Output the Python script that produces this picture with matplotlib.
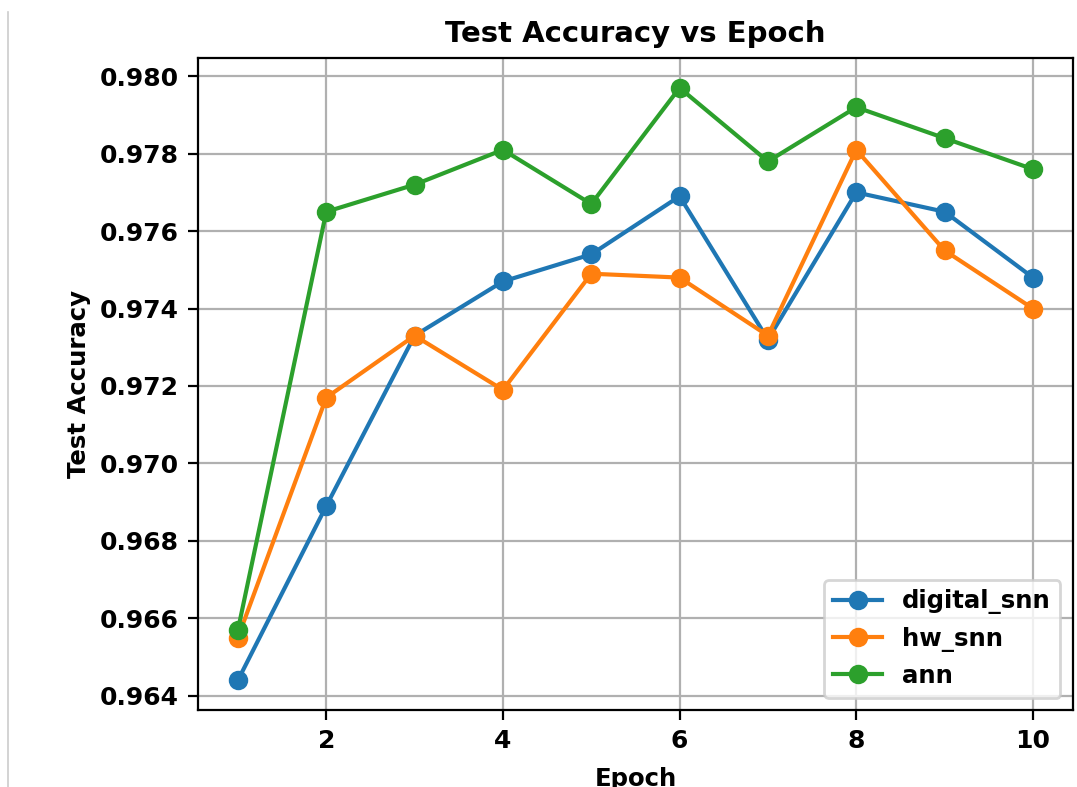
import matplotlib
matplotlib.use('Agg')
import matplotlib.pyplot as plt
from matplotlib.lines import Line2D

# test accuracy per epoch
epochs = [1, 2, 3, 4, 5, 6, 7, 8, 9, 10]
digital_snn = [0.9644, 0.9689, 0.9733, 0.9747, 0.9754, 0.9769, 0.9732, 0.9770, 0.9765, 0.9748]
hw_snn = [0.9655, 0.9717, 0.9733, 0.9719, 0.9749, 0.9748, 0.9733, 0.9781, 0.9755, 0.9740]
ann = [0.9657, 0.9765, 0.9772, 0.9781, 0.9767, 0.9797, 0.9778, 0.9792, 0.9784, 0.9776]

plt.rcParams['font.weight'] = 'bold'
plt.rcParams['axes.labelweight'] = 'bold'
plt.rcParams['axes.titleweight'] = 'bold'

W = 1077 / 200
H = 787 / 200
fig, ax = plt.subplots(figsize=(W, H), dpi=200)
fig.subplots_adjust(left=0.184, right=0.996, top=0.926, bottom=0.098)

ax.plot(epochs, digital_snn, marker='o', label='digital_snn')
ax.plot(epochs, hw_snn, marker='o', label='hw_snn')
ax.plot(epochs, ann, marker='o', label='ann')

ax.set_title('Test Accuracy vs Epoch', fontsize=10.5)
ax.set_xlabel('Epoch', fontsize=8.8, labelpad=5)
ax.set_ylabel('Test Accuracy', fontsize=8.8, labelpad=3)
ax.set_xticks([2, 4, 6, 8, 10])
ax.set_yticks([0.964, 0.966, 0.968, 0.970, 0.972, 0.974, 0.976, 0.978, 0.980])
ax.tick_params(labelsize=9)
ax.grid(True)
ax.legend(loc='lower right', fontsize=8.8, handletextpad=0.8)

# faint border line at the left edge of the reference image
fig.add_artist(Line2D([8 / 1077, 8 / 1077], [0, 0.985], color='#cccccc', linewidth=0.6))

plt.savefig('out.png', dpi=200)
